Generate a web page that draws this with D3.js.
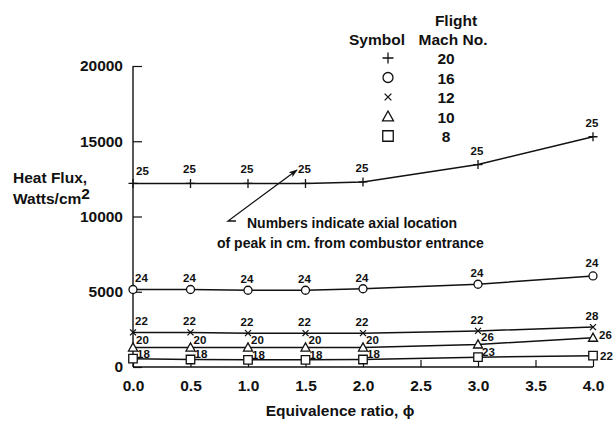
<!DOCTYPE html>
<html>
<head>
<meta charset="utf-8">
<script src="https://cdn.jsdelivr.net/npm/d3@7"></script>
<style>
  html, body { margin: 0; padding: 0; background: #fff; }
  svg text { font-family: "Liberation Sans", Arial, Helvetica, sans-serif; font-weight: bold; fill: #111; }
</style>
</head>
<body>
<svg id="chart" width="616" height="428"></svg>
<script>
// Equivalence ratio values where each run was evaluated
const phi = [0.0, 0.5, 1.0, 1.5, 2.0, 3.0, 4.0];

// Flight Mach numbers and their plotting symbols
const machNumbers = [20, 16, 12, 10, 8];
const symbolNames = ["plus", "circle", "cross", "triangle", "square"];

// Peak heat flux (W/cm^2) per Mach number
const fluxMach20 = [12200, 12200, 12200, 12200, 12300, 13450, 15300];
const fluxMach16 = [5150, 5150, 5100, 5100, 5200, 5500, 6050];
const fluxMach12 = [2300, 2300, 2250, 2250, 2250, 2400, 2650];
const fluxMach10 = [1300, 1300, 1300, 1300, 1300, 1500, 1950];
const fluxMach8  = [550, 500, 480, 480, 500, 650, 750];

// Axial location of the peak, cm from combustor entrance
const peakMach20 = [25, 25, 25, 25, 25, 25, 25];
const peakMach16 = [24, 24, 24, 24, 24, 24, 24];
const peakMach12 = [22, 22, 22, 22, 22, 22, 28];
const peakMach10 = [20, 20, 20, 20, 20, 26, 26];
const peakMach8  = [18, 18, 18, 18, 18, 23, 22];

// Axis ticks
const xTicks = [0.0, 0.5, 1.0, 1.5, 2.0, 2.5, 3.0, 3.5, 4.0];
const yTicks = [0, 5000, 10000, 15000, 20000];

const fluxSeries = [fluxMach20, fluxMach16, fluxMach12, fluxMach10, fluxMach8];
const peakSeries = [peakMach20, peakMach16, peakMach12, peakMach10, peakMach8];

const svg = d3.select("#chart");
const x = d3.scaleLinear().domain([0, 4]).range([133, 593]);
const y = d3.scaleLinear().domain([0, 20000]).range([367, 66]);

// Symbol path builders, centred on the origin
function symbolPath(name, s) {
  const h = s / 2;
  switch (name) {
    case "plus": return `M${-h},0H${h}M0,${-h}V${h}`;
    case "circle": return `M${h},0A${h},${h} 0 1,1 ${-h},0A${h},${h} 0 1,1 ${h},0Z`;
    case "cross": { const c = h * 0.75; return `M${-c},${-c}L${c},${c}M${-c},${c}L${c},${-c}`; }
    case "triangle": return `M0,${-h}L${h},${h * 0.8}L${-h},${h * 0.8}Z`;
    case "square": return `M${-h},${-h}H${h}V${h}H${-h}Z`;
  }
}
const markSize = { plus: 9, circle: 8, cross: 8, triangle: 9, square: 8.5 };
const legendSize = { plus: 11, circle: 10, cross: 9, triangle: 11, square: 10.5 };

// Axes
const xAxis = d3.axisBottom(x).tickValues(xTicks).tickSize(-7).tickPadding(13)
  .tickFormat(d3.format(".1f"));
const gx = svg.append("g").attr("transform", "translate(0,367)").call(xAxis);
gx.select(".domain").attr("d", "M133,0H593").attr("stroke", "#111").attr("stroke-width", 1.4);
gx.selectAll(".tick line").attr("stroke", "#111").attr("stroke-width", 1.2);
gx.selectAll(".tick text").attr("font-size", 15.5).attr("fill", "#111")
  .attr("font-family", "Liberation Sans, Arial, sans-serif").attr("font-weight", "bold");

const yAxis = d3.axisLeft(y).tickValues(yTicks).tickSize(-9).tickPadding(10)
  .tickFormat(d3.format("d"));
const gy = svg.append("g").attr("transform", "translate(133,0)").call(yAxis);
gy.select(".domain").attr("d", "M0,66V367").attr("stroke", "#111").attr("stroke-width", 1.4);
gy.selectAll(".tick line").attr("stroke", "#111").attr("stroke-width", 1.2);
gy.selectAll(".tick text").attr("font-size", 15.5).attr("fill", "#111")
  .attr("font-family", "Liberation Sans, Arial, sans-serif").attr("font-weight", "bold");

// Axis titles
svg.append("text").attr("x", 340).attr("y", 416).attr("text-anchor", "middle")
  .attr("font-size", 15.5).text("Equivalence ratio, \u03D5");
const yTitle = svg.append("text").attr("font-size", 15.5);
yTitle.append("tspan").attr("x", 13).attr("y", 183).text("Heat Flux,");
yTitle.append("tspan").attr("x", 13).attr("y", 204).text("Watts/cm");
yTitle.append("tspan").attr("dy", -5).text("2");

// Label placement for each series: [dx, dy, anchor] for inner points,
// plus overrides for the first and last points
const labelStyle = [
  { inner: [-1, -10, "middle"], first: [3, -8, "start"], last: [-1, -10, "middle"] },
  { inner: [-1, -7, "middle"], first: [2, -7, "start"], last: [-1, -9, "middle"] },
  { inner: [-1, -7, "middle"], first: [2, -7, "start"], last: [-1, -7, "middle"] },
  { inner: [3, -3, "start"], first: [3, -3, "start"], last: [6, 1, "start"] },
  { inner: [4, -1, "start"], first: [4, -1, "start"], last: [7, 4, "start"] }
];

const line = d3.line().x(d => x(d.phi)).y(d => y(d.flux));

fluxSeries.forEach((vals, si) => {
  const pts = phi.map((p, i) => ({ phi: p, flux: vals[i], peak: peakSeries[si][i] }));
  const g = svg.append("g");
  g.append("path").datum(pts).attr("d", line)
    .attr("fill", "none").attr("stroke", "#111").attr("stroke-width", 1.5);
  const sym = symbolNames[si];
  g.selectAll("path.mark").data(pts).enter().append("path")
    .attr("class", "mark")
    .attr("transform", d => `translate(${x(d.phi)},${y(d.flux)})`)
    .attr("d", symbolPath(sym, markSize[sym]))
    .attr("fill", sym === "plus" || sym === "cross" ? "none" : "#fff")
    .attr("stroke", "#111").attr("stroke-width", 1.3);
  const st = labelStyle[si];
  g.selectAll("text").data(pts).enter().append("text")
    .attr("font-size", 11.5)
    .each(function (d, i) {
      const o = i === 0 ? st.first : (i === pts.length - 1 ? st.last : st.inner);
      d3.select(this).attr("x", x(d.phi) + o[0]).attr("y", y(d.flux) + o[1])
        .attr("text-anchor", o[2]);
    })
    .text(d => d.peak);
});

// Legend
const legend = svg.append("g");
legend.append("text").attr("x", 456).attr("y", 26).attr("text-anchor", "middle")
  .attr("font-size", 15.5).text("Flight");
legend.append("text").attr("x", 377).attr("y", 45).attr("text-anchor", "middle")
  .attr("font-size", 15.5).text("Symbol");
legend.append("text").attr("x", 453).attr("y", 45).attr("text-anchor", "middle")
  .attr("font-size", 15.5).text("Mach No.");
const rowY = d3.scalePoint().domain(machNumbers).range([58, 136]);
machNumbers.forEach((m, i) => {
  const sym = symbolNames[i];
  legend.append("path")
    .attr("transform", `translate(388,${rowY(m)})`)
    .attr("d", symbolPath(sym, legendSize[sym]))
    .attr("fill", "none").attr("stroke", "#111").attr("stroke-width", 1.3);
  legend.append("text").attr("x", 446).attr("y", rowY(m) + 6)
    .attr("text-anchor", "middle").attr("font-size", 15.5).text(m);
});

// Annotation with arrow
const defs = svg.append("defs");
defs.append("marker").attr("id", "arrowhead").attr("viewBox", "0 0 10 10")
  .attr("refX", 9).attr("refY", 5).attr("markerWidth", 9).attr("markerHeight", 9)
  .attr("markerUnits", "userSpaceOnUse").attr("orient", "auto")
  .append("path").attr("d", "M0,1.5L10,5L0,8.5L2.5,5Z").attr("fill", "#111");
svg.append("path").attr("d", "M236,221H228L297,170")
  .attr("fill", "none").attr("stroke", "#111").attr("stroke-width", 1.3)
  .attr("marker-end", "url(#arrowhead)");
svg.append("text").attr("x", 247).attr("y", 228).attr("font-size", 14)
  .text("Numbers indicate axial location");
svg.append("text").attr("x", 217).attr("y", 248).attr("font-size", 14)
  .text("of peak in cm. from combustor entrance");
</script>
</body>
</html>
